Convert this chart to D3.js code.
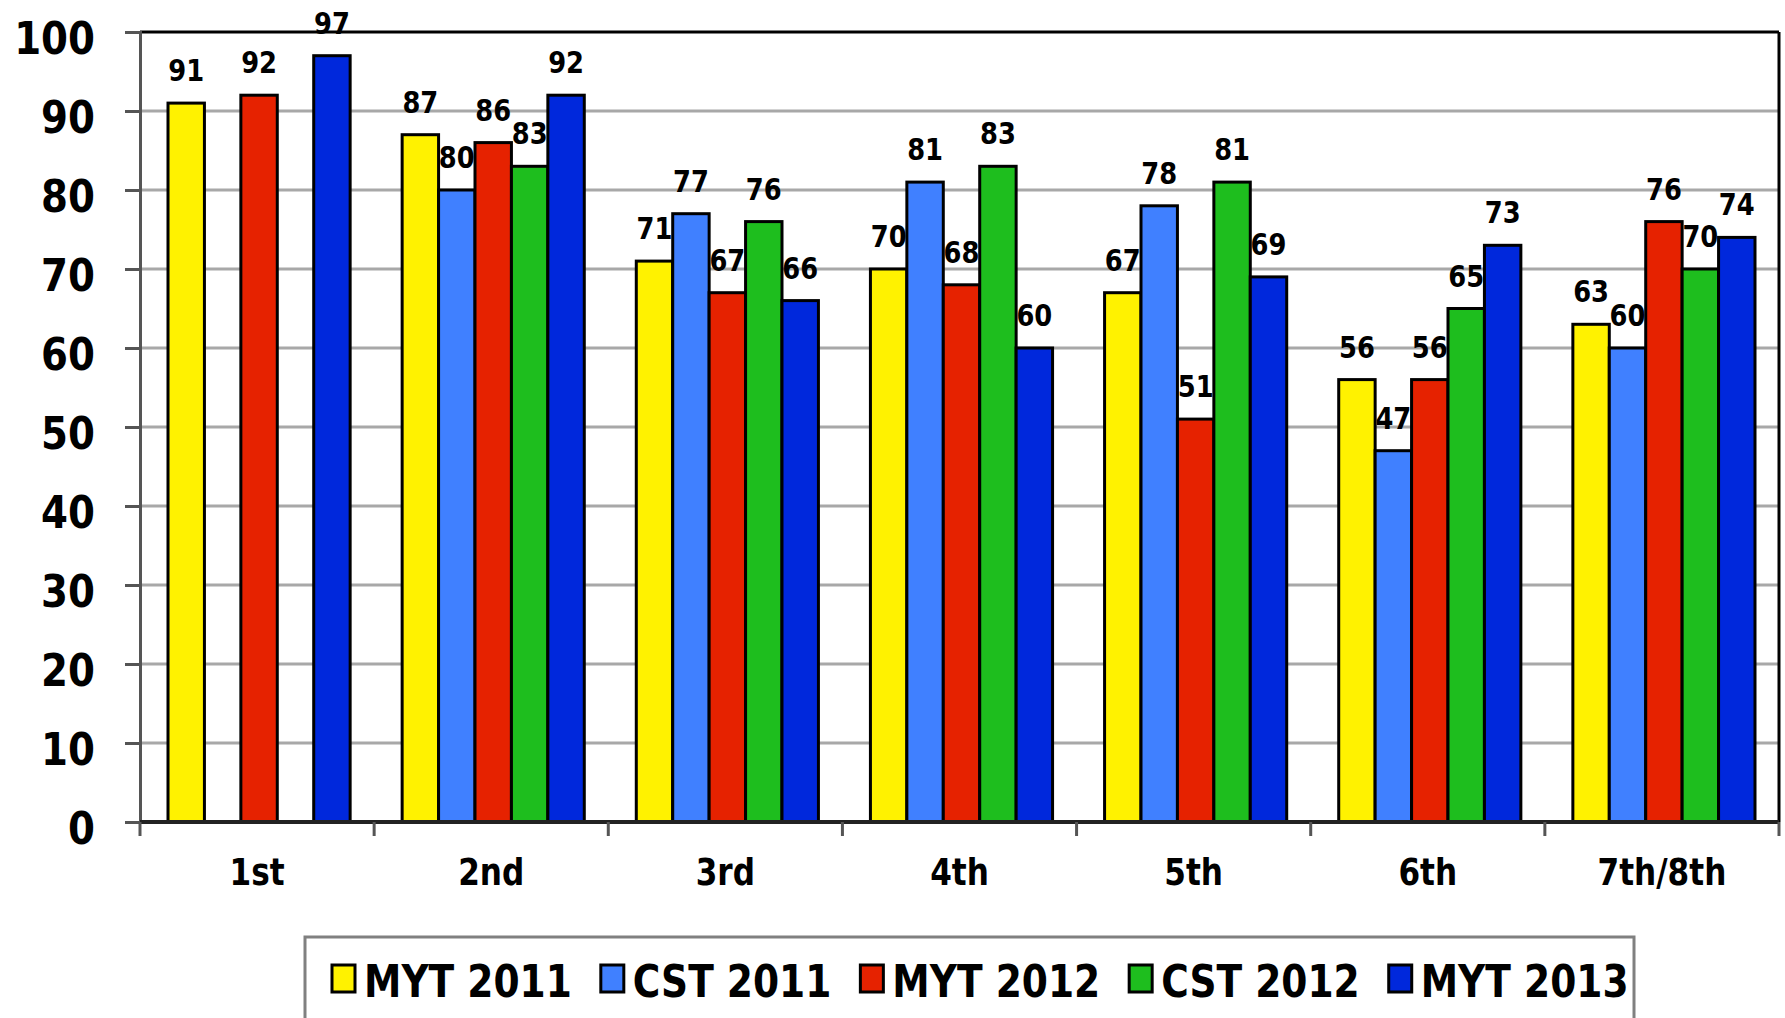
<!DOCTYPE html>
<html>
<head>
<meta charset="utf-8">
<script src="https://cdn.jsdelivr.net/npm/d3@7"></script>
<style>
  html, body { margin: 0; padding: 0; background: #fff; }
  text { font-family: "DejaVu Sans", Verdana, sans-serif; font-weight: bold; fill: #000; }
</style>
</head>
<body>
<div id="chart"></div>
<script>
var CATEGORIES = ["1st", "2nd", "3rd", "4th", "5th", "6th", "7th/8th"];
var SERIES = ["MYT 2011", "CST 2011", "MYT 2012", "CST 2012", "MYT 2013"];
var MYT_2011 = [91, 87, 71, 70, 67, 56, 63];
var CST_2011 = [null, 80, 77, 81, 78, 47, 60];
var MYT_2012 = [92, 86, 67, 68, 51, 56, 76];
var CST_2012 = [null, 83, 76, 83, 81, 65, 70];
var MYT_2013 = [97, 92, 66, 60, 69, 73, 74];
var Y_TICKS = [0, 10, 20, 30, 40, 50, 60, 70, 80, 90, 100];
var COLORS = ["#fff200", "#4080ff", "#e62200", "#1ebe1e", "#0028dc"];

var aValues = [MYT_2011, CST_2011, MYT_2012, CST_2012, MYT_2013];

var W = 1785, H = 1018;
var MARGIN = {top: 32, right: 6, bottom: 196, left: 140},
    WIDTH = W - MARGIN.left - MARGIN.right,
    HEIGHT = H - MARGIN.top - MARGIN.bottom;

var svg = d3.select("#chart").append("svg")
  .attr("width", W).attr("height", H);

var g = svg.append("g")
  .attr("transform", "translate(" + MARGIN.left + "," + MARGIN.top + ")");

var x0 = d3.scaleBand().domain(CATEGORIES).range([0, WIDTH]).padding(0);
var x1 = d3.scaleBand().domain(d3.range(SERIES.length))
  .range([28, x0.bandwidth() - 24]).padding(0);
var y = d3.scaleLinear().domain([0, 100]).range([HEIGHT, 0]);

// gridlines
g.append("g").selectAll("line")
  .data(Y_TICKS.filter(function(d) { return d > 0 && d < 100; }))
  .enter().append("line")
  .attr("x1", 0).attr("x2", WIDTH)
  .attr("y1", function(d) { return y(d); })
  .attr("y2", function(d) { return y(d); })
  .attr("stroke", "#a8a8a8").attr("stroke-width", 3);

// plot border top / right
g.append("line").attr("x1", 0).attr("x2", WIDTH).attr("y1", y(100)).attr("y2", y(100))
  .attr("stroke", "#000").attr("stroke-width", 3);
g.append("line").attr("x1", WIDTH).attr("x2", WIDTH).attr("y1", y(100)).attr("y2", y(0))
  .attr("stroke", "#000").attr("stroke-width", 3);

// y axis
var yAxis = g.append("g")
  .call(d3.axisLeft(y).tickValues(Y_TICKS).tickSize(15).tickFormat(d3.format("d")));
yAxis.select(".domain").attr("stroke", "#555").attr("stroke-width", 3);
yAxis.selectAll(".tick line").attr("stroke", "#555").attr("stroke-width", 3);
yAxis.selectAll(".tick text")
  .attr("x", 0).attr("dy", null).attr("y", 21)
  .attr("text-anchor", "end")
  .attr("transform", "translate(-45,0) scale(0.88,1)")
  .style("font-size", "44px").style("font-family", null).attr("fill", "#000");

// bars
var groups = g.selectAll(".cat")
  .data(CATEGORIES)
  .enter().append("g")
  .attr("transform", function(d) { return "translate(" + x0(d) + ",0)"; });

groups.each(function(cat, ci) {
  var aRow = aValues.map(function(a, si) { return {s: si, v: a[ci]}; })
    .filter(function(d) { return d.v != null; });
  var grp = d3.select(this);
  grp.selectAll("rect")
    .data(aRow)
    .enter().append("rect")
    .attr("x", function(d) { return x1(d.s); })
    .attr("y", function(d) { return y(d.v); })
    .attr("width", x1.bandwidth())
    .attr("height", function(d) { return y(0) - y(d.v); })
    .attr("fill", function(d) { return COLORS[d.s]; })
    .attr("stroke", "#000").attr("stroke-width", 3);
  grp.selectAll("g.lbl")
    .data(aRow)
    .enter().append("g")
    .attr("class", "lbl")
    .attr("transform", function(d) {
      return "translate(" + (x1(d.s) + x1.bandwidth() / 2) + "," + (y(d.v) - 22) + ") scale(0.86,1)";
    })
    .append("text")
    .attr("text-anchor", "middle")
    .style("font-size", "30px")
    .text(function(d) { return d.v; });
});

// x axis
var xAxis = g.append("g")
  .attr("transform", "translate(0," + HEIGHT + ")");
xAxis.append("line").attr("x1", 0).attr("x2", WIDTH).attr("y1", 0).attr("y2", 0)
  .attr("stroke", "#222").attr("stroke-width", 4);
xAxis.selectAll("line.tk")
  .data(CATEGORIES.concat(["end"]))
  .enter().append("line")
  .attr("class", "tk")
  .attr("x1", function(d, i) { return i * x0.step(); })
  .attr("x2", function(d, i) { return i * x0.step(); })
  .attr("y1", 0).attr("y2", 14)
  .attr("stroke", "#555").attr("stroke-width", 3);
xAxis.selectAll("g.xl")
  .data(CATEGORIES)
  .enter().append("g")
  .attr("class", "xl")
  .attr("transform", function(d) {
    return "translate(" + (x0(d) + x0.bandwidth() / 2) + ",63) scale(0.82,1)";
  })
  .append("text")
  .attr("text-anchor", "middle")
  .style("font-size", "38px")
  .text(function(d) { return d; });

// legend
var legend = svg.append("g");
legend.append("rect")
  .attr("x", 305).attr("y", 937).attr("width", 1329).attr("height", 120)
  .attr("fill", "#fff").attr("stroke", "#808080").attr("stroke-width", 3);

var fCursor = 332;
SERIES.forEach(function(sName, i) {
  legend.append("rect")
    .attr("x", fCursor).attr("y", 965).attr("width", 23).attr("height", 27)
    .attr("fill", COLORS[i]).attr("stroke", "#000").attr("stroke-width", 3);
  var tg = legend.append("g")
    .attr("transform", "translate(" + (fCursor + 32) + ",997) scale(0.835,1)");
  var t = tg.append("text").style("font-size", "45px").text(sName);
  var fLen = t.node().getComputedTextLength() * 0.835;
  fCursor = fCursor + 32 + fLen + 29;
});
</script>
</body>
</html>
